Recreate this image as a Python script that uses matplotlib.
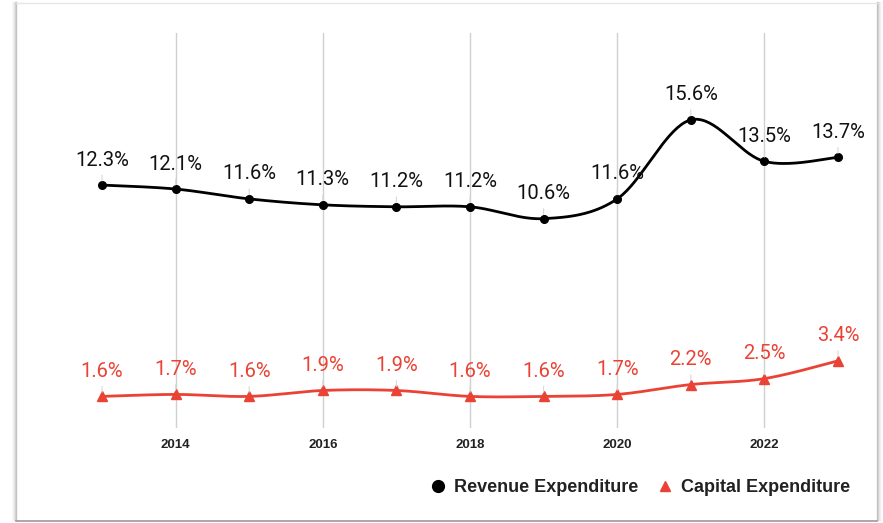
import numpy as np
import matplotlib
matplotlib.use("Agg")
import matplotlib.pyplot as plt
from matplotlib.lines import Line2D

# Expenditure as share of total, by year
years = [2013, 2014, 2015, 2016, 2017, 2018, 2019, 2020, 2021, 2022, 2023]
revenue = [12.3, 12.1, 11.6, 11.3, 11.2, 11.2, 10.6, 11.6, 15.6, 13.5, 13.7]
capital = [1.6, 1.7, 1.6, 1.9, 1.9, 1.6, 1.6, 1.7, 2.2, 2.5, 3.4]
tick_years = [2014, 2016, 2018, 2020, 2022]

BLACK = "#000000"
RED = "#ea4335"
W, H = 883, 523


def smooth(xs, ys, n=40):
    # Catmull-Rom style cubic Bezier through every point
    x = np.asarray(xs, float)
    y = np.asarray(ys, float)
    px = np.concatenate([[x[0]], x, [x[-1]]])
    py = np.concatenate([[y[0]], y, [y[-1]]])
    out_x, out_y = [], []
    t = np.linspace(0, 1, n)
    for i in range(1, len(px) - 2):
        p0, p1, p2, p3 = [np.array([px[j], py[j]]) for j in (i - 1, i, i + 1, i + 2)]
        b1 = p1 + (p2 - p0) / 6
        b2 = p2 - (p3 - p1) / 6
        pts = ((1 - t) ** 3)[:, None] * p1 + (3 * (1 - t) ** 2 * t)[:, None] * b1 \
            + (3 * (1 - t) * t ** 2)[:, None] * b2 + (t ** 3)[:, None] * p2
        out_x.extend(pts[:, 0])
        out_y.extend(pts[:, 1])
    return out_x, out_y


fig = plt.figure(figsize=(W / 100, H / 100), dpi=100)

# card outline with a soft shadow on the sides
for k, a in enumerate([0.22, 0.12, 0.07, 0.04, 0.02]):
    fig.add_artist(Line2D([(16 - k) / W] * 2, [3 / H, 1 - 2 / H], transform=fig.transFigure,
                          color="black", alpha=a, lw=1))
    fig.add_artist(Line2D([(877 + k) / W] * 2, [3 / H, 1 - 2 / H], transform=fig.transFigure,
                          color="black", alpha=a, lw=1))
fig.add_artist(Line2D([16 / W, 877 / W], [2.5 / H] * 2, transform=fig.transFigure,
                      color="#9a9a9a", lw=1.2))
fig.add_artist(Line2D([16 / W, 877 / W], [1 - 2.5 / H] * 2, transform=fig.transFigure,
                      color="#e6e6e6", lw=1))

left, right = 65.2, 874.8
bottom, top = 428, 33
ax = fig.add_axes([left / W, 1 - bottom / H, (right - left) / W, (bottom - top) / H])
ax.set_xlim(2012.5, 2023.5)
ax.set_ylim(0, 20)
for s in ax.spines.values():
    s.set_visible(False)
ax.set_yticks([])
ax.set_xticks(tick_years)
ax.set_xticklabels([str(y) for y in tick_years], fontfamily="Liberation Sans",
                   fontweight="bold", fontsize=9.5, color="#222222")
ax.tick_params(axis="x", length=0, pad=8)
ax.grid(axis="x", color="#d0d0d0", lw=1)
ax.set_axisbelow(True)

sx, sy = smooth(years, revenue)
ax.plot(sx, sy, color=BLACK, lw=2, zorder=3)
ax.plot(years, revenue, "o", color=BLACK, ms=5.5, zorder=4)

sx, sy = smooth(years, capital)
ax.plot(sx, sy, color=RED, lw=2, zorder=3)
ax.plot(years, capital, "^", color=RED, ms=6.5, zorder=4)

for series, color in [(revenue, "#111111"), (capital, RED)]:
    for x, v in zip(years, series):
        ax.annotate(f"{v}%", (x, v), xytext=(0, 14), textcoords="offset points",
                    ha="center", va="baseline", fontsize=14.5, fontfamily="Roboto",
                    color=color, zorder=5,
                    arrowprops=dict(arrowstyle="-", color="#d8d8d8", lw=0.8,
                                    shrinkA=2, shrinkB=3))

handles = [
    Line2D([], [], ls="none", marker="o", color=BLACK, ms=8.5),
    Line2D([], [], ls="none", marker="^", color=RED, ms=7),
]
fig.legend(handles, ["Revenue Expenditure", "Capital Expenditure"], ncol=2,
           loc="center right", bbox_to_anchor=(859 / W, 1 - 488 / H), frameon=False,
           handlelength=0.8, handletextpad=0.5, columnspacing=1.05, borderpad=0,
           prop={"family": "Liberation Sans", "weight": "bold", "size": 13}, labelcolor="#222222")

fig.savefig("out.png", dpi=100, facecolor="white")
